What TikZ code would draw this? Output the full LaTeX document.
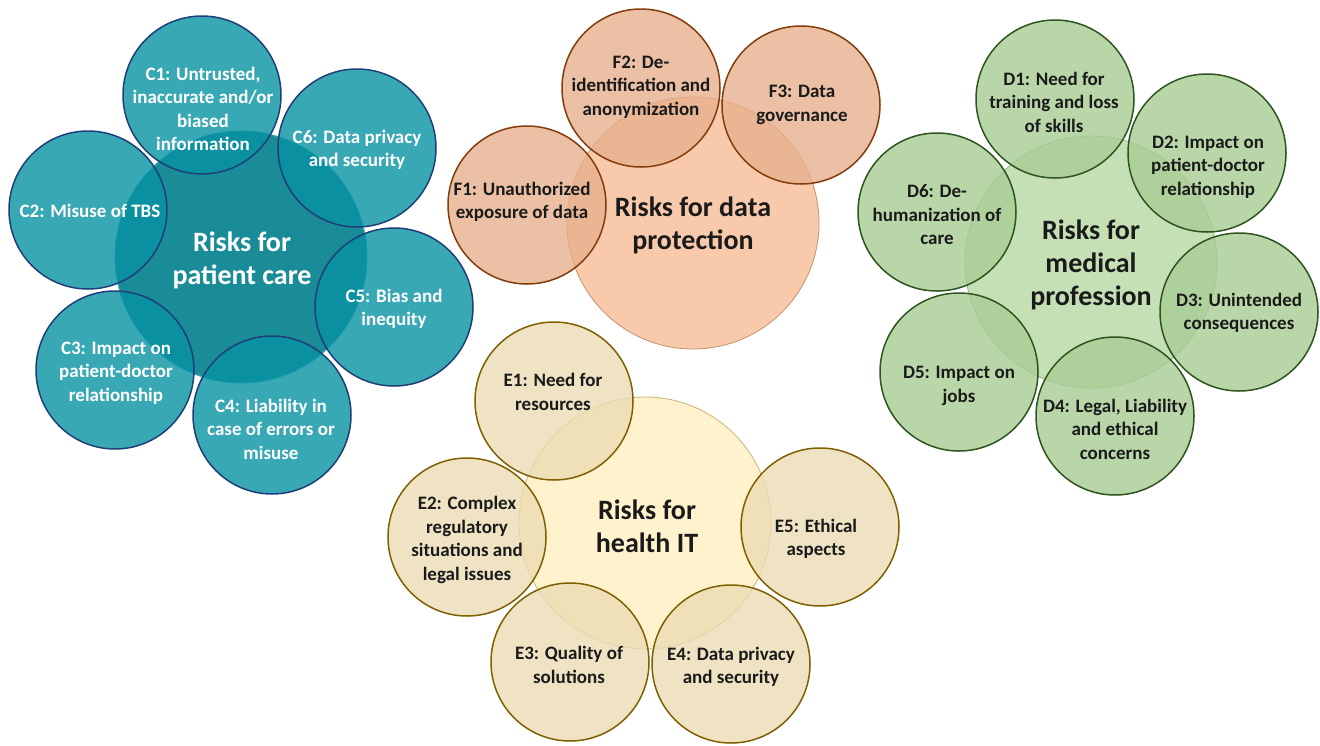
\documentclass[tikz,border=0pt]{standalone}
\usepackage{fontspec}
\setmainfont{Carlito}
\definecolor{cSat}{HTML}{0692A2}
\definecolor{cCen}{HTML}{1A8C98}
\definecolor{cCenL}{HTML}{4FB0BA}
\definecolor{cLine}{HTML}{1F3F7A}
\definecolor{fSat}{HTML}{E6B08D}
\definecolor{fCen}{HTML}{F8CAAB}
\definecolor{fCenL}{HTML}{C8906C}
\definecolor{fLine}{HTML}{843C0C}
\definecolor{dSat}{HTML}{A8CC94}
\definecolor{dCen}{HTML}{C6E0B5}
\definecolor{dCenL}{HTML}{93B880}
\definecolor{dLine}{HTML}{2E5420}
\definecolor{eSat}{HTML}{EBDCB4}
\definecolor{eCen}{HTML}{FFF2CC}
\definecolor{eCenL}{HTML}{C8B27A}
\definecolor{eLine}{HTML}{7F6000}
\definecolor{txt}{HTML}{1A1A1A}
\begin{document}
\begin{tikzpicture}[x=1pt,y=-1pt,
  sat/.style={circle,inner sep=0pt,minimum size=158pt,line width=1.5pt,fill opacity=0.8},
  cen/.style={circle,inner sep=0pt,minimum size=252pt,line width=0.8pt},
  lab/.style={align=center,font=\fontsize{19}{23.5}\selectfont\bfseries,inner sep=0pt},
  big/.style={align=center,font=\fontsize{28}{33}\selectfont\bfseries,inner sep=0pt},
]
\useasboundingbox (0,0) rectangle (1320,745);

% ---------- patient care ----------
\node[cen, fill=cCen, draw=cCenL] (cc) at (241,257) {};
\node[sat, fill=cSat, draw=cLine] (c1) at (202,95) {};
\node[sat, fill=cSat, draw=cLine] (c6) at (357,148) {};
\node[sat, fill=cSat, draw=cLine] (c2) at (88,210) {};
\node[sat, fill=cSat, draw=cLine] (c5) at (394,307) {};
\node[sat, fill=cSat, draw=cLine] (c3) at (115,370) {};
\node[sat, fill=cSat, draw=cLine] (c4) at (272,415) {};
\node[lab, white] (tc1) at (203,109) {C1: Untrusted,\\inaccurate and/or\\biased\\information};
\node[lab, white] (tc6) at (357,150) {C6: Data privacy\\and security};
\node[lab, white] (tc2) at (90,211) {C2: Misuse of TBS};
\node[lab, white] (tc5) at (394,309) {C5: Bias and\\inequity};
\node[lab, white] (tc3) at (116,373) {C3: Impact on\\patient-doctor\\relationship};
\node[lab, white] (tc4) at (271,429) {C4: Liability in\\case of errors or\\misuse};
\node[big, white] (tcc) at (242,260) {Risks for\\patient care};

% ---------- data protection ----------
\node[cen, fill=fCen, draw=fCenL] (fc) at (693,223) {};
\node[sat, fill=fSat, draw=fLine] (f1) at (527,205) {};
\node[sat, fill=fSat, draw=fLine] (f2) at (641,88) {};
\node[sat, fill=fSat, draw=fLine] (f3) at (801,105) {};
\node[lab, txt] (tf1) at (522,202) {F1: Unauthorized\\exposure of data};
\node[lab, txt] (tf2) at (641,87) {F2: De-\\identification and\\anonymization};
\node[lab, txt] (tf3) at (802,105) {F3: Data\\governance};
\node[big, txt] (tfc) at (693,225) {Risks for data\\protection};

% ---------- medical profession ----------
\node[cen, fill=dCen, draw=dCenL] (dc) at (1091,262) {};
\node[sat, fill=dSat, draw=dLine] (d1) at (1055,99) {};
\node[sat, fill=dSat, draw=dLine] (d2) at (1207,153) {};
\node[sat, fill=dSat, draw=dLine] (d3) at (1239,312) {};
\node[sat, fill=dSat, draw=dLine] (d4) at (1115,416) {};
\node[sat, fill=dSat, draw=dLine] (d5) at (959,372) {};
\node[sat, fill=dSat, draw=dLine] (d6) at (937,212) {};
\node[lab, txt] (td1) at (1054,102) {D1: Need for\\training and loss\\of skills};
\node[lab, txt] (td2) at (1208,167) {D2: Impact on\\patient-doctor\\relationship};
\node[lab, txt] (td3) at (1239,313) {D3: Unintended\\consequences};
\node[lab, txt] (td4) at (1115,429) {D4: Legal, Liability\\and ethical\\concerns};
\node[lab, txt] (td5) at (959,386) {D5: Impact on\\jobs};
\node[lab, txt] (td6) at (937,215) {D6: De-\\humanization of\\care};
\node[big, txt] (tdc) at (1091,265) {Risks for\\medical\\profession};

% ---------- health IT ----------
\node[cen, fill=eCen, draw=eCenL] (ec) at (645,523) {};
\node[sat, fill=eSat, draw=eLine] (e1) at (554,401) {};
\node[sat, fill=eSat, draw=eLine] (e2) at (467,537) {};
\node[sat, fill=eSat, draw=eLine] (e3) at (570,662) {};
\node[sat, fill=eSat, draw=eLine] (e4) at (731,664) {};
\node[sat, fill=eSat, draw=eLine] (e5) at (820,527) {};
\node[lab, txt] (te1) at (553,392) {E1: Need for\\resources};
\node[lab, txt] (te2) at (467,540) {E2: Complex\\regulatory\\situations and\\legal issues};
\node[lab, txt] (te3) at (569,665) {E3: Quality of\\solutions};
\node[lab, txt] (te4) at (731,667) {E4: Data privacy\\and security};
\node[lab, txt] (te5) at (816,539) {E5: Ethical\\aspects};
\node[big, txt] (tec) at (647,526) {Risks for\\health IT};
\end{tikzpicture}
\end{document}
